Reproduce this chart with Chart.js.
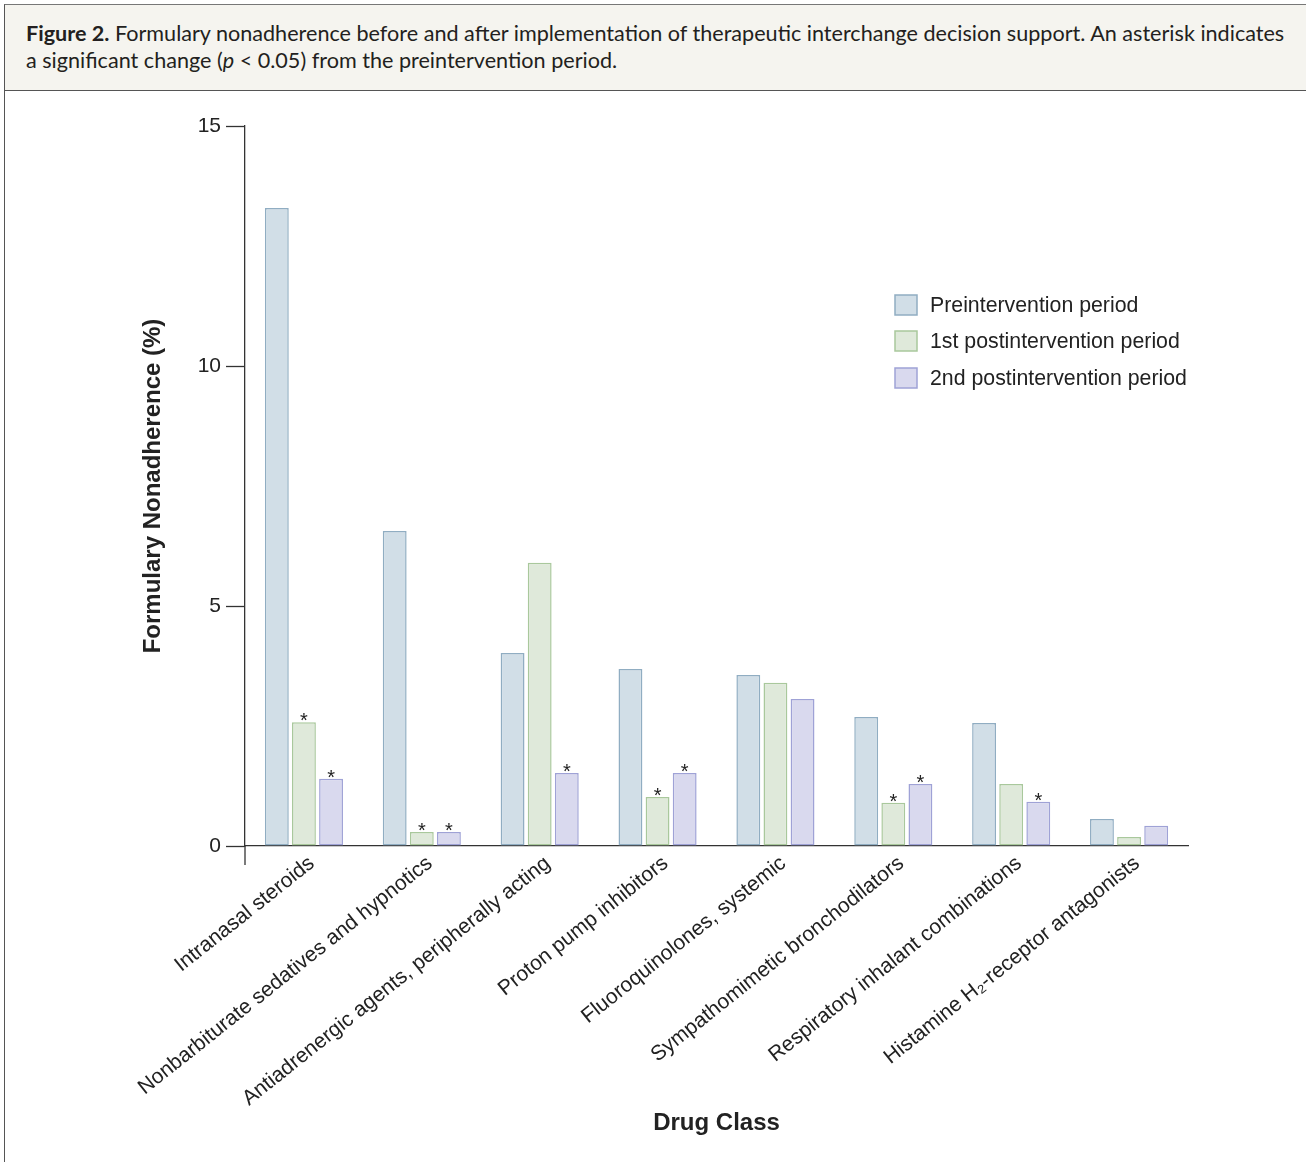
<!DOCTYPE html>
<html>
<head>
<meta charset="utf-8">
<script src="https://cdn.jsdelivr.net/npm/chart.js@4/dist/chart.umd.min.js"></script>
<style>
  html, body { margin: 0; padding: 0; background: #fff; }
  body { width: 1306px; height: 1162px; position: relative; overflow: hidden; }
  #frame { position: absolute; left: 4px; top: 4px; width: 1310px; height: 1170px; border-left: 1px solid #555; border-top: 1px solid #777; }
  #header { position: absolute; left: 5px; top: 5px; width: 1301px; height: 85px; background: #f5f4ef; border-bottom: 1.5px solid #555; }
  #caption { position: absolute; left: 21px; top: 15px; font-family: Lato, "Open Sans", sans-serif; font-size: 21.6px; line-height: 27px; color: #231f20; white-space: nowrap; }
  #caption b { font-weight: 700; }
  #wrap { position: absolute; left: 0; top: 92px; width: 1306px; height: 1070px; }
</style>
</head>
<body>
<div id="frame"></div>
<div id="header"><div id="caption"><b>Figure 2.</b> Formulary nonadherence before and after implementation of therapeutic interchange decision support. An asterisk indicates<br>a significant change (<i>p</i> &lt; 0.05) from the preintervention period.</div></div>
<div id="wrap"><canvas id="c"></canvas></div>
<script>
const categories = [
  "Intranasal steroids",
  "Nonbarbiturate sedatives and hypnotics",
  "Antiadrenergic agents, peripherally acting",
  "Proton pump inhibitors",
  "Fluoroquinolones, systemic",
  "Sympathomimetic bronchodilators",
  "Respiratory inhalant combinations",
  "Histamine H\u2082-receptor antagonists"
];
const seriesNames = ["Preintervention period", "1st postintervention period", "2nd postintervention period"];
const preValues   = [13.29, 6.56, 4.02, 3.69, 3.56, 2.69, 2.56, 0.56];
const post1Values = [2.58, 0.29, 5.90, 1.02, 3.40, 0.90, 1.29, 0.19];
const post2Values = [1.40, 0.29, 1.52, 1.52, 3.06, 1.29, 0.92, 0.42];
const post1Significant = [true, true, false, true, false, true, false, false];
const post2Significant = [true, true, true, true, false, true, true, false];
const yTicks = [0, 5, 10, 15];

const fills = ["#d1dee7", "#dfe9da", "#d9d9ee"];
const borders = ["#90adc2", "#a9c89c", "#9fa2d6"];
const FONT = '"Liberation Sans", Arial, sans-serif';

const sigFlags = [null, post1Significant, post2Significant];

const asteriskPlugin = {
  id: 'asterisks',
  afterDatasetsDraw(chart) {
    const ctx = chart.ctx;
    ctx.save();
    ctx.font = '20px ' + FONT;
    ctx.fillStyle = '#222';
    ctx.textAlign = 'center';
    ctx.textBaseline = 'alphabetic';
    chart.data.datasets.forEach((ds, di) => {
      const flags = sigFlags[di];
      if (!flags) return;
      const meta = chart.getDatasetMeta(di);
      meta.data.forEach((bar, i) => {
        if (flags[i]) ctx.fillText('*', bar.x, bar.y + 5);
      });
    });
    ctx.restore();
  }
};

const axisExtPlugin = {
  id: 'axisExt',
  afterDraw(chart) {
    const ctx = chart.ctx, a = chart.chartArea;
    ctx.save();
    ctx.strokeStyle = '#333';
    ctx.lineWidth = 1.3;
    ctx.beginPath();
    ctx.moveTo(a.left, a.bottom);
    ctx.lineTo(a.left, a.bottom + 19);
    ctx.stroke();
    ctx.restore();
  }
};

const legendPlugin = {
  id: 'customLegend',
  afterDraw(chart) {
    const ctx = chart.ctx;
    ctx.save();
    const x0 = 895, rows = [213, 249, 286];
    ctx.font = '21.3px ' + FONT;
    ctx.textBaseline = 'middle';
    ctx.textAlign = 'left';
    chart.data.datasets.forEach((ds, i) => {
      const cy = rows[i];
      ctx.fillStyle = fills[i];
      ctx.strokeStyle = borders[i];
      ctx.lineWidth = 1.5;
      ctx.fillRect(x0, cy - 10, 22, 20);
      ctx.strokeRect(x0, cy - 10, 22, 20);
      ctx.fillStyle = '#222';
      ctx.fillText(ds.label, x0 + 35, cy + 1);
    });
    ctx.restore();
  }
};

new Chart(document.getElementById('c'), {
  type: 'bar',
  data: {
    labels: categories,
    datasets: [preValues, post1Values, post2Values].map((vals, i) => ({
      label: seriesNames[i],
      data: vals,
      backgroundColor: fills[i],
      borderColor: borders[i],
      borderWidth: 1.5,
      borderSkipped: false,
      barPercentage: 0.88,
      categoryPercentage: 0.69
    }))
  },
  options: {
    responsive: true,
    maintainAspectRatio: false,
    animation: false,
    layout: { padding: { left: 0, top: 34, right: 118, bottom: 0 } },
    plugins: { legend: { display: false }, tooltip: { enabled: false } },
    scales: {
      x: {
        grid: { display: false },
        border: { display: true, color: '#333', width: 1.3 },
        ticks: {
          autoSkip: false, maxRotation: 38.5, minRotation: 38.5, padding: -3, labelOffset: 8,
          color: '#222', font: { family: FONT, size: 21 }
        },
        title: {
          display: true, text: 'Drug Class', color: '#222',
          font: { family: FONT, size: 24, weight: 'bold' },
          padding: { top: 0, bottom: 24 }
        },
        afterFit(scale) { scale.height = 316; }
      },
      y: {
        min: 0, max: 15,
        afterBuildTicks(scale) { scale.ticks = yTicks.map(v => ({ value: v })); },
        grid: { drawOnChartArea: false, drawTicks: true, tickLength: 19, tickColor: '#333', tickWidth: 1.3 },
        border: { display: true, color: '#333', width: 1.3 },
        ticks: { color: '#222', padding: 5, font: { family: FONT, size: 21 } },
        title: {
          display: true, text: 'Formulary Nonadherence (%)', color: '#222',
          font: { family: FONT, size: 24, weight: 'bold' },
          padding: { top: 139, bottom: 0 }
        },
        afterFit(scale) { scale.width = 245; }
      }
    }
  },
  plugins: [asteriskPlugin, axisExtPlugin, legendPlugin]
});
</script>
</body>
</html>
